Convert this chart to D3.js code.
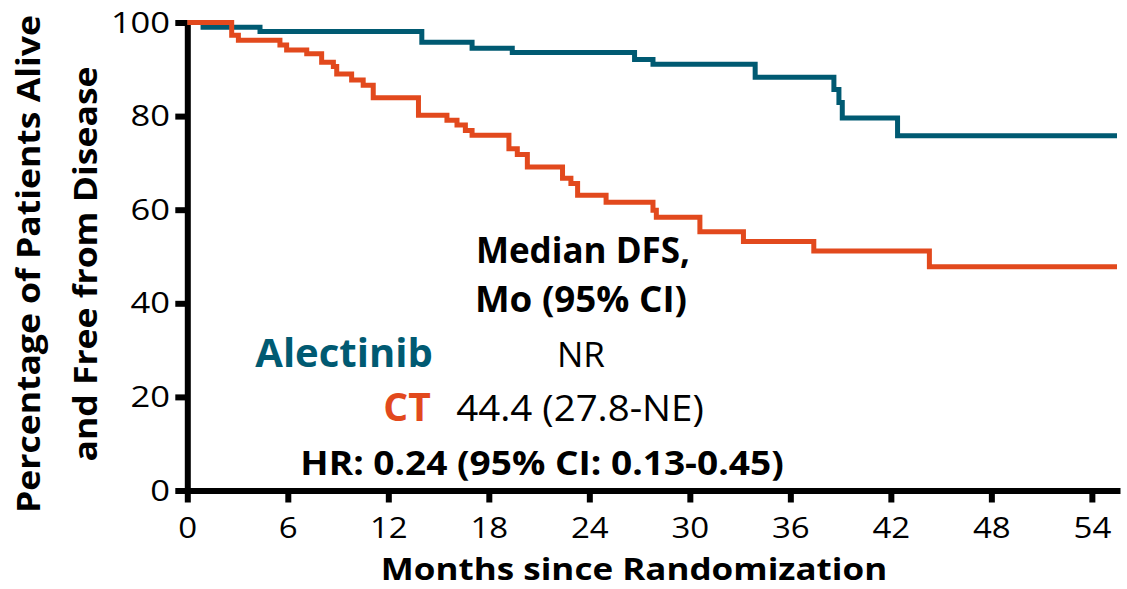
<!DOCTYPE html>
<html>
<head>
<meta charset="utf-8">
<script src="https://cdn.jsdelivr.net/npm/d3@7"></script>
<style>
  body { margin: 0; background: #fff; }
  svg text { font-family: "Open Sans", Lato, sans-serif; }
  .axis path, .axis line { stroke: #000; stroke-width: 6; }
  .axis text { font-size: 30px; fill: #000; }
</style>
</head>
<body>
<div id="chart"></div>
<script>
// Kaplan-Meier steps (months, % alive and disease free)
var alecMonths = [0, 0.94, 4.34, 14.0, 17.0, 19.4, 26.7, 27.8, 33.9, 38.6, 38.9, 39.1, 42.4, 55.5];
var alecPct    = [100, 99.0, 98.1, 95.8, 94.5, 93.6, 92.1, 91.1, 88.3, 85.7, 82.9, 79.6, 75.8, 75.8];

var ctMonths = [0, 2.65, 3.05, 5.53, 5.93, 7.13, 8.02, 8.72, 8.92, 9.81, 10.5, 11.1, 13.8, 15.5, 16.1, 16.6, 17.0,
                19.2, 19.7, 20.3, 22.4, 22.9, 23.3, 25.0, 27.8, 28.0, 30.6, 33.2, 37.4, 44.3, 55.5];
var ctPct    = [100, 97.3, 96.2, 95.2, 94.1, 93.3, 91.5, 90.6, 89.0, 87.7, 86.6, 83.9, 80.2, 79.1, 78.1, 76.9, 75.9,
                73.0, 71.8, 69.1, 66.7, 65.6, 63.1, 61.6, 59.9, 58.4, 55.3, 53.2, 51.2, 47.8, 47.8];

var xTicks = [0, 6, 12, 18, 24, 30, 36, 42, 48, 54];
var yTicks = [0, 20, 40, 60, 80, 100];

var alecColor = "#005a72";
var ctColor = "#e2491d";

var width = 1127, height = 589;
var margin = { top: 22.5, left: 187.3, right: 10, bottom: 98.5 };

var svg = d3.select("#chart")
    .append("svg")
    .attr("width", width)
    .attr("height", height);

var x = d3.scaleLinear()
    .domain([0, 55.5])
    .range([margin.left, 1117]);

var y = d3.scaleLinear()
    .domain([0, 100])
    .range([height - margin.bottom, margin.top]);

var xAxis = d3.axisBottom(x)
    .tickValues(xTicks)
    .tickSize(12)
    .tickSizeOuter(0)
    .tickPadding(14);

var yAxis = d3.axisLeft(y)
    .tickValues(yTicks)
    .tickSize(12)
    .tickSizeOuter(0)
    .tickPadding(3);

svg.append("g")
    .attr("class", "x-axis axis")
    .attr("transform", "translate(0," + y(0) + ")")
    .call(xAxis);

svg.append("g")
    .attr("class", "y-axis axis")
    .attr("transform", "translate(" + x(0) + ",0)")
    .call(yAxis);

svg.selectAll(".axis path").attr("stroke-linecap", "square");
// the source lettering is a little wider than the fonts we have
svg.selectAll(".x-axis text").attr("transform", "scale(1.1,1)");
svg.selectAll(".y-axis text").attr("transform", "scale(1.15,1)");

var line = d3.line()
    .curve(d3.curveStepAfter)
    .x(function(d) { return x(d[0]); })
    .y(function(d) { return y(d[1]); });

var alecData = d3.zip(alecMonths, alecPct);
var ctData = d3.zip(ctMonths, ctPct);

svg.append("path")
    .datum(alecData)
    .attr("fill", "none")
    .attr("stroke", alecColor)
    .attr("stroke-width", 5)
    .attr("d", line);

svg.append("path")
    .datum(ctData)
    .attr("fill", "none")
    .attr("stroke", ctColor)
    .attr("stroke-width", 5)
    .attr("d", line);

// axis titles
svg.append("text")
    .attr("transform", "translate(634,580) scale(1.13,1)")
    .attr("text-anchor", "middle")
    .attr("font-size", 31)
    .attr("font-weight", "bold")
    .text("Months since Randomization");

var yTitle = svg.append("text")
    .attr("transform", "translate(40,264) rotate(-90) scale(1.11,1)")
    .attr("text-anchor", "middle")
    .attr("font-size", 32)
    .attr("font-weight", "bold");
yTitle.append("tspan").attr("x", 0).attr("y", 0).text("Percentage of Patients Alive");
yTitle.append("tspan").attr("x", 0).attr("y", 57).text("and Free from Disease");

// annotation block
var notes = [
    { text: "Median DFS,", x: 583, y: 263, size: 35, sx: 1, weight: "bold", color: "#000" },
    { text: "Mo (95% CI)", x: 581, y: 312, size: 35, sx: 1.05, weight: "bold", color: "#000" },
    { text: "Alectinib", x: 344, y: 367, size: 40, sx: 1, weight: "bold", color: alecColor },
    { text: "NR", x: 581, y: 367, size: 35, sx: 1, weight: "normal", color: "#000" },
    { text: "CT", x: 407, y: 421, size: 39, sx: 1, weight: "bold", color: ctColor },
    { text: "44.4 (27.8-NE)", x: 580, y: 421, size: 37, sx: 1.04, weight: "normal", color: "#000" },
    { text: "HR: 0.24 (95% CI: 0.13-0.45)", x: 542, y: 475, size: 34, sx: 1.09, weight: "bold", color: "#000" }
];

svg.selectAll(".note")
    .data(notes)
    .enter()
    .append("text")
    .attr("class", "note")
    .attr("transform", function(d) { return "translate(" + d.x + "," + d.y + ") scale(" + d.sx + ",1)"; })
    .attr("text-anchor", "middle")
    .attr("font-size", function(d) { return d.size; })
    .attr("font-weight", function(d) { return d.weight; })
    .attr("fill", function(d) { return d.color; })
    .text(function(d) { return d.text; });
</script>
</body>
</html>
